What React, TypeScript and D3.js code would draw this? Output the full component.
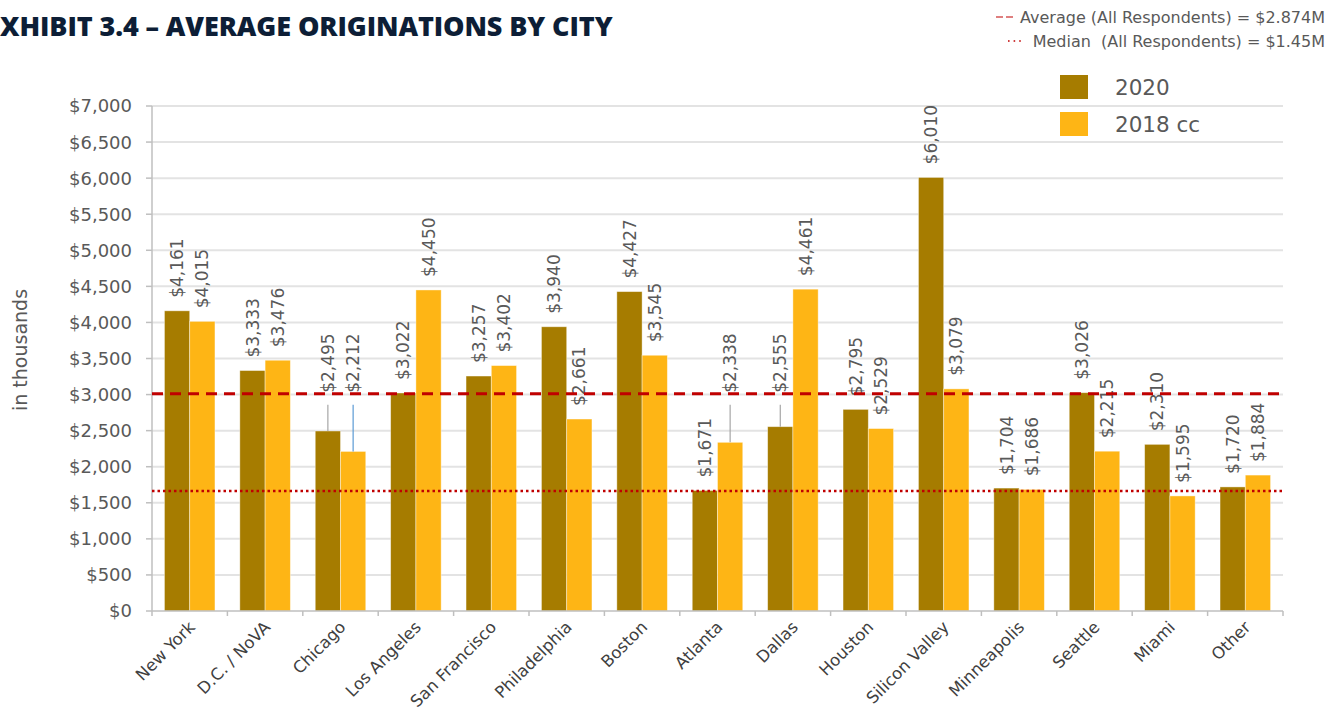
import React from "react";
import * as d3 from "d3";

const cities = ["New York", "D.C. / NoVA", "Chicago", "Los Angeles", "San Francisco", "Philadelphia", "Boston", "Atlanta", "Dallas", "Houston", "Silicon Valley", "Minneapolis", "Seattle", "Miami", "Other"];
const series = ["2020", "2018 cc"];
const values2020 = [4161, 3333, 2495, 3022, 3257, 3940, 4427, 1671, 2555, 2795, 6010, 1704, 3026, 2310, 1720];
const values2018 = [4015, 3476, 2212, 4450, 3402, 2661, 3545, 2338, 4461, 2529, 3079, 1686, 2215, 1595, 1884];
const yTicks = [0, 500, 1000, 1500, 2000, 2500, 3000, 3500, 4000, 4500, 5000, 5500, 6000, 6500, 7000];
const averageLine = 3010;
const medianLine = 1665;
const averageText = "Average (All Respondents) = $2.874M";
const medianText = "Median\u00A0 (All Respondents) = $1.45M";
// labels that Excel moved up with a leader line: [cityIndex, seriesIndex]
const raisedLabels = [[2, 0], [2, 1], [7, 1], [8, 0]];

const colors = ["#A67C00", "#FEB515"];
const FONT = "'DejaVu Sans', sans-serif";
const TEXT = "#595959";

export default function App() {
  const W = 1340, H = 713;
  const left = 152, right = 1283, top = 106, bottom = 611;
  const x0 = d3.scaleBand<string>().domain(cities).range([left, right]).paddingInner(0).paddingOuter(0);
  const x1 = d3.scaleBand<string>().domain(series).range([x0.bandwidth() * 0.165, x0.bandwidth() * 0.835]);
  const y = d3.scaleLinear().domain([0, 7000]).range([bottom, top]);
  const fmt = (v: number) => "$" + d3.format(",")(v);
  const data = [values2020, values2018];
  const isRaised = (ci: number, si: number) => raisedLabels.some(([c, s]) => c === ci && s === si);

  return (
    <svg width={W} height={H} style={{ position: "absolute", left: 0, top: 0, background: "#fff" }} fontFamily={FONT}>
      {/* title */}
      <text x={0} y={36} fontSize={27} fontWeight={800} fill="#0D1E36" letterSpacing={-0.1} fontFamily="'Open Sans', sans-serif">XHIBIT 3.4 – AVERAGE ORIGINATIONS BY CITY</text>

      {/* ref line legend */}
      <g fontSize={16} fill={TEXT}>
        <line x1={996} x2={1015} y1={17} y2={17} stroke="#C00000" strokeWidth={1.2} strokeDasharray="7 3" />
        <text x={1325} y={23} textAnchor="end">{averageText}</text>
        <line x1={1008} x2={1024} y1={41} y2={41} stroke="#C00000" strokeWidth={1.6} strokeDasharray="1.6 4" />
        <text x={1325} y={47} textAnchor="end">{medianText}</text>
      </g>

      {/* gridlines */}
      {yTicks.map((t) => (
        <g key={t}>
          {t > 0 && <line x1={left} x2={right} y1={y(t)} y2={y(t)} stroke="#E3E3E3" strokeWidth={2} />}
          <line x1={left - 6} x2={left} y1={y(t)} y2={y(t)} stroke="#BFBFBF" strokeWidth={1.5} />
          <text x={132} y={y(t)} dy="0.36em" textAnchor="end" fontSize={18} fill={TEXT}>{fmt(t)}</text>
        </g>
      ))}

      {/* legend series */}
      {series.map((s, i) => (
        <g key={s}>
          <rect x={1060} y={75 + i * 37} width={28} height={24} fill={colors[i]} />
          <text x={1115} y={87 + i * 37} dy="0.36em" fontSize={21.5} fill={TEXT}>{s}</text>
        </g>
      ))}

      {/* bars */}
      {cities.map((c, ci) => (
        <g key={c} transform={`translate(${x0(c)},0)`}>
          {series.map((s, si) => {
            const v = data[si][ci];
            return (
              <rect key={s} x={x1(s)} y={y(v)} width={x1.bandwidth()} height={bottom - y(v)} fill={colors[si]} stroke="#fff" strokeOpacity={0.5} strokeWidth={0.8} />
            );
          })}
        </g>
      ))}

      {/* axes */}
      <line x1={left} x2={left} y1={top} y2={bottom} stroke="#BFBFBF" strokeWidth={1.5} />
      <line x1={left} x2={right} y1={bottom} y2={bottom} stroke="#BFBFBF" strokeWidth={1.5} />
      {cities.concat([""]).map((c, i) => {
        const xx = left + i * x0.step();
        return <line key={i} x1={xx} x2={xx} y1={bottom} y2={bottom + 5} stroke="#BFBFBF" strokeWidth={1.5} />;
      })}

      {/* data labels */}
      {cities.map((c, ci) =>
        series.map((s, si) => {
          const v = data[si][ci];
          const cx = (x0(c) as number) + (x1(s) as number) + x1.bandwidth() / 2;
          const raised = isRaised(ci, si);
          const startY = raised ? y(averageLine) - 1 : y(v) - 13;
          return (
            <g key={c + s}>
              {raised && <line x1={cx} x2={cx} y1={startY + 12} y2={y(v)} stroke={ci === 2 && si === 1 ? "#5B9BD5" : "#A6A6A6"} strokeWidth={1.2} />}
              <text transform={`translate(${cx},${startY}) rotate(-90)`} dy="0.36em" fontSize={17} fill={TEXT}>{fmt(v)}</text>
            </g>
          );
        })
      )}

      {/* reference lines */}
      <line x1={left} x2={right} y1={y(averageLine)} y2={y(averageLine)} stroke="#C00000" strokeWidth={3} strokeDasharray="11 7" />
      <line x1={left} x2={right} y1={y(medianLine)} y2={y(medianLine)} stroke="#C00000" strokeWidth={2.5} strokeDasharray="2.5 3" />

      {/* x labels */}
      {cities.map((c) => {
        const cx = (x0(c) as number) + x0.bandwidth() / 2;
        return (
          <text key={c} transform={`translate(${cx + 2},${bottom + 13}) rotate(-45)`} textAnchor="end" dy="0.36em" fontSize={16.5} fill="#404040">{c}</text>
        );
      })}

      {/* axis title */}
      <text transform={`translate(20,350) rotate(-90)`} textAnchor="middle" dy="0.36em" fontSize={19} fill={TEXT}>in thousands</text>
    </svg>
  );
}
